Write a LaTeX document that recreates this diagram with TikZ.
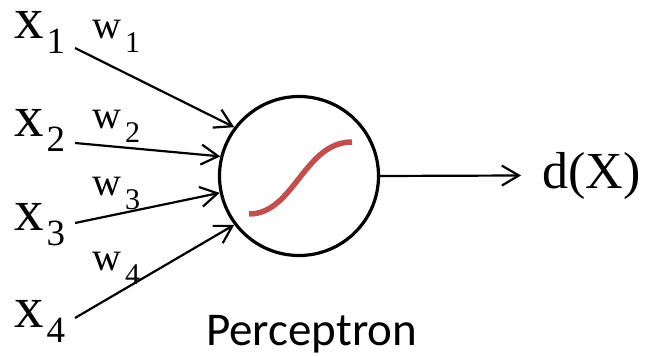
\documentclass[tikz,border=0pt]{standalone}
\usepackage{fontspec}
\setmainfont{Liberation Serif}
\newfontfamily\capfont{Carlito}
\usetikzlibrary{arrows.meta}
\definecolor{sigred}{HTML}{C0504D}
% input and weight labels
\newcommand{\xin}[1]{\fontsize{59}{59}\selectfont x\kern3pt\raisebox{-15pt}{\fontsize{37}{37}\selectfont #1}}
\newcommand{\win}[1]{\fontsize{40}{40}\selectfont w\kern4pt\raisebox{-14pt}{\fontsize{30}{30}\selectfont #1}}
\begin{document}
\begin{tikzpicture}[x=1pt, y=-1pt,
	lab/.style={inner sep=0pt, anchor=base west},
	syn/.style={line width=2.2pt, -{Straight Barb[length=17pt,width=20pt,line width=2.2pt]}}]
	\useasboundingbox (0,0) rectangle (646,356);
	% inputs
	\node[lab] (x1) at (14,38) {\xin{1}};
	\node[lab] (x2) at (14,136) {\xin{2}};
	\node[lab] (x3) at (14,230) {\xin{3}};
	\node[lab] (x4) at (14,327) {\xin{4}};
	% weights
	\node[lab] (w1) at (92,38) {\win{1}};
	\node[lab] (w2) at (92,128) {\win{2}};
	\node[lab] (w3) at (92,195) {\win{3}};
	\node[lab] (w4) at (92,270) {\win{4}};
	% the neuron
	\node[circle, draw, line width=3.2pt, minimum size=159pt, inner sep=0pt] (neuron) at (299,176) {};
	\draw[sigred, line width=5.5pt] (249,214) .. controls (294,214) and (304,142) .. (352,142);
	\node[inner sep=0pt, anchor=base west] (label) at (206,345) {\capfont\fontsize{47}{47}\selectfont Perceptron};
	% synapses
	\coordinate (s1) at (75,48);
	\coordinate (s2) at (75,143);
	\coordinate (s3) at (75,223);
	\coordinate (s4) at (75,318);
	\draw[syn] (s1) -- (neuron.143);
	\draw[syn] (s2) -- (neuron.166);
	\draw[syn] (s3) -- (neuron.192);
	\draw[syn] (s4) -- (neuron.217);
	% output
	\node[inner sep=0pt, anchor=base west] (dx) at (542,188) {\fontsize{52}{52}\selectfont d(X)};
	\draw[syn] (neuron.east) -- ([xshift=-21pt]dx.west);
\end{tikzpicture}
\end{document}
